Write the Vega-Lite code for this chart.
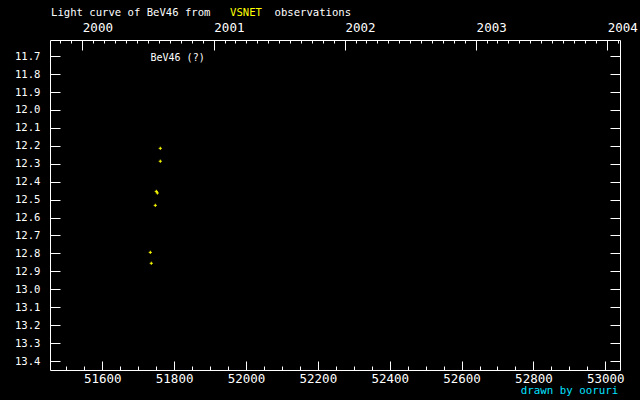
{
  "$schema": "https://vega.github.io/schema/vega-lite/v6.json",
  "width": 570,
  "height": 330,
  "autosize": {"type": "none"},
  "padding": {"left": 50, "top": 40, "right": 20, "bottom": 30},
  "background": "#000000",
  "config": {
    "view": {"stroke": "#ffffff", "strokeWidth": 1},
    "axis": {
      "domain": false,
      "grid": false,
      "tickColor": "#ffffff",
      "tickWidth": 1,
      "labelColor": "#ffffff",
      "titleColor": "#ffffff",
      "labelFont": "DejaVu Sans Mono",
      "titleFont": "DejaVu Sans Mono",
      "titleFontWeight": "normal",
      "labelOverlap": false,
      "labelFlush": false
    }
  },
  "data": {
    "values": [
      {"jd": 51761.5, "mag": 12.214},
      {"jd": 51761.5, "mag": 12.286},
      {"jd": 51750.4, "mag": 12.454},
      {"jd": 51753.2, "mag": 12.463},
      {"jd": 51747.6, "mag": 12.532},
      {"jd": 51733.7, "mag": 12.794},
      {"jd": 51736.4, "mag": 12.855}
    ]
  },
  "layer": [
    {
      "mark": {"type": "point", "shape": "M-1,0H1M0,-1V1", "filled": false, "stroke": "#ffff00", "strokeWidth": 1, "size": 10, "opacity": 1},
      "encoding": {
        "x": {
          "field": "jd", "type": "quantitative",
          "scale": {"domain": [51454.5, 53041], "nice": false, "zero": false},
          "axis": {
            "orient": "bottom", "title": null,
            "values": [51600, 51800, 52000, 52200, 52400, 52600, 52800, 53000],
            "format": "d", "tickSize": -9, "labelPadding": 17.3,
            "labelFontSize": 12.5, "labelBaseline": "middle"
          }
        },
        "y": {
          "field": "mag", "type": "quantitative",
          "scale": {"domain": [11.61, 13.45], "reverse": true, "nice": false, "zero": false},
          "axis": {
            "orient": "left",
            "values": [11.7, 11.8, 11.9, 12.0, 12.1, 12.2, 12.3, 12.4, 12.5, 12.6, 12.7, 12.8, 12.9, 13.0, 13.1, 13.2, 13.3, 13.4],
            "format": ".1f", "tickSize": -10, "labelPadding": 20, "labelFontSize": 10.6,
            "title": "Light curve of BeV46 from",
            "titleAngle": 0, "titleX": 0.5, "titleY": -27.8,
            "titleAlign": "left", "titleBaseline": "middle", "titleFontSize": 10.6
          }
        }
      }
    },
    {
      "mark": {"type": "point", "opacity": 0},
      "encoding": {
        "x": {
          "field": "jd", "type": "quantitative",
          "scale": {"domain": [51454.5, 53041], "nice": false, "zero": false},
          "axis": {
            "orient": "bottom", "labels": false, "tickSize": -4,
            "values": [51500, 51550, 51600, 51650, 51700, 51750, 51800, 51850, 51900, 51950, 52000, 52050, 52100, 52150, 52200, 52250, 52300, 52350, 52400, 52450, 52500, 52550, 52600, 52650, 52700, 52750, 52800, 52850, 52900, 52950, 53000],
            "title": "drawn by ooruri", "titleColor": "#00e0ff",
            "titleX": 470.2, "titleY": 20.9, "titleAlign": "left", "titleBaseline": "middle", "titleFontSize": 10.8
          }
        },
        "y": {
          "field": "mag", "type": "quantitative",
          "scale": {"domain": [11.61, 13.45], "reverse": true, "nice": false, "zero": false},
          "axis": {
            "orient": "right", "labels": false, "tickSize": -10, "title": null,
            "values": [11.7, 11.8, 11.9, 12.0, 12.1, 12.2, 12.3, 12.4, 12.5, 12.6, 12.7, 12.8, 12.9, 13.0, 13.1, 13.2, 13.3, 13.4]
          }
        }
      }
    },
    {
      "mark": {"type": "point", "opacity": 0},
      "encoding": {
        "x": {
          "field": "jd", "type": "quantitative",
          "scale": {"domain": [51454.5, 53041], "nice": false, "zero": false},
          "axis": {
            "orient": "top", "tickSize": -10, "labelPadding": 22.1,
            "values": [51544.5, 51910.5, 52275.5, 52640.5, 53005.5],
            "labelExpr": "'' + (2000 + round((datum.value - 51544.5) / 365.25))",
            "labelAlign": "left", "labelBaseline": "middle", "labelFontSize": 12.5,
            "title": "VSNET", "titleColor": "#ffff00",
            "titleX": 179.5, "titleY": -27.8, "titleAlign": "left", "titleBaseline": "middle", "titleFontSize": 10.6
          }
        },
        "y": {
          "field": "mag", "type": "quantitative",
          "scale": {"domain": [11.61, 13.45], "reverse": true, "nice": false, "zero": false},
          "axis": null
        }
      }
    },
    {
      "mark": {"type": "point", "opacity": 0},
      "encoding": {
        "x": {
          "field": "jd", "type": "quantitative",
          "scale": {"domain": [51454.5, 53041], "nice": false, "zero": false},
          "axis": {
            "orient": "top", "labels": false, "tickSize": -3,
            "values": [51483.5, 51513.5, 51544.5, 51575.5, 51604.5, 51635.5, 51665.5, 51696.5, 51726.5, 51757.5, 51788.5, 51818.5, 51849.5, 51879.5, 51910.5, 51941.5, 51969.5, 52000.5, 52030.5, 52061.5, 52091.5, 52122.5, 52153.5, 52183.5, 52214.5, 52244.5, 52275.5, 52306.5, 52334.5, 52365.5, 52395.5, 52426.5, 52456.5, 52487.5, 52518.5, 52548.5, 52579.5, 52609.5, 52640.5, 52671.5, 52699.5, 52730.5, 52760.5, 52791.5, 52821.5, 52852.5, 52883.5, 52913.5, 52944.5, 52974.5, 53005.5, 53036.5],
            "title": "observations",
            "titleX": 224, "titleY": -27.8, "titleAlign": "left", "titleBaseline": "middle", "titleFontSize": 10.6
          }
        },
        "y": {
          "field": "mag", "type": "quantitative",
          "scale": {"domain": [11.61, 13.45], "reverse": true, "nice": false, "zero": false},
          "axis": null
        }
      }
    },
    {
      "data": {"values": [{"label": "BeV46 (?)"}]},
      "mark": {"type": "text", "align": "left", "baseline": "middle", "fill": "#ffffff", "font": "DejaVu Sans Mono", "fontSize": 10, "fontWeight": "normal"},
      "encoding": {
        "text": {"field": "label", "type": "nominal"},
        "x": {"datum": 51734.2, "type": "quantitative", "axis": null, "scale": {"domain": [51454.5, 53041], "nice": false, "zero": false}},
        "y": {"datum": 11.712, "type": "quantitative", "axis": null, "scale": {"domain": [11.61, 13.45], "reverse": true, "nice": false, "zero": false}}
      }
    }
  ],
  "resolve": {"axis": {"x": "independent", "y": "independent"}}
}
